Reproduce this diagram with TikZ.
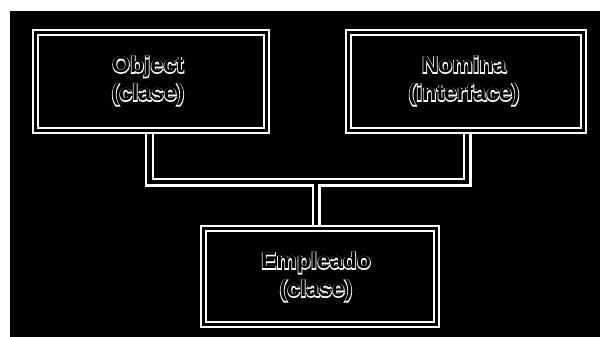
\documentclass[tikz,border=0pt]{standalone}
\usepackage{fontspec}
\newfontfamily\wfont{Liberation Sans Bold}[FakeBold=7]
\newfontfamily\bfont{Liberation Sans Bold}
\pgfdeclarelayer{bg}
\pgfdeclarelayer{conn}
\pgfsetlayers{bg,conn,main}
\tikzset{
  box/.style={draw=white, line width=2pt, double=black, double distance=3.5pt, fill=black, inner sep=0pt},
  wtxt/.style={text=white, align=center, inner sep=0pt, font=\wfont\fontsize{23}{28}\selectfont},
  btxt/.style={text=black, align=center, inner sep=0pt, font=\bfont\fontsize{23}{28}\selectfont},
  connw/.style={draw=white, line width=9pt},
  connb/.style={draw=black, line width=4.5pt}
}
\begin{document}
\begin{tikzpicture}[x=1pt,y=-1pt]
\useasboundingbox (0,0) rectangle (600,337);
\begin{pgfonlayer}{bg}
\fill[white] (0,0) rectangle (600,337);
\fill[black] (10,11) rectangle (600,337);
\end{pgfonlayer}
\node[box, minimum width=231pt, minimum height=98pt] (obj) at (151,81.5) {};
\node[box, minimum width=235pt, minimum height=98pt] (nom) at (466,81.5) {};
\node[box, minimum width=233pt, minimum height=96pt] (emp) at (320,276.5) {};
\coordinate (jl) at (149.5,182);
\coordinate (jr) at (467,182);
\coordinate (js) at (316,182);
\begin{pgfonlayer}{conn}
\draw[connw] (obj.south -| jl) -- (jl) -- (jr) -- (nom.south -| jr);
\draw[connw] (js) -- (emp.north -| js);
\draw[connb] (obj.south -| jl) -- (jl) -- (jr) -- (nom.south -| jr);
\draw[connb] (js) -- (emp.north -| js);
\end{pgfonlayer}
\node[wtxt] (objw) at (148,81) {Object\\(clase)};
\node[btxt] (objb) at (148,81) {Object\\(clase)};
\node[wtxt] (nomw) at (464,81) {Nomina\\(interface)};
\node[btxt] (nomb) at (464,81) {Nomina\\(interface)};
\node[wtxt] (empw) at (316,277) {Empleado\\(clase)};
\node[btxt] (empb) at (316,277) {Empleado\\(clase)};
\end{tikzpicture}
\end{document}
